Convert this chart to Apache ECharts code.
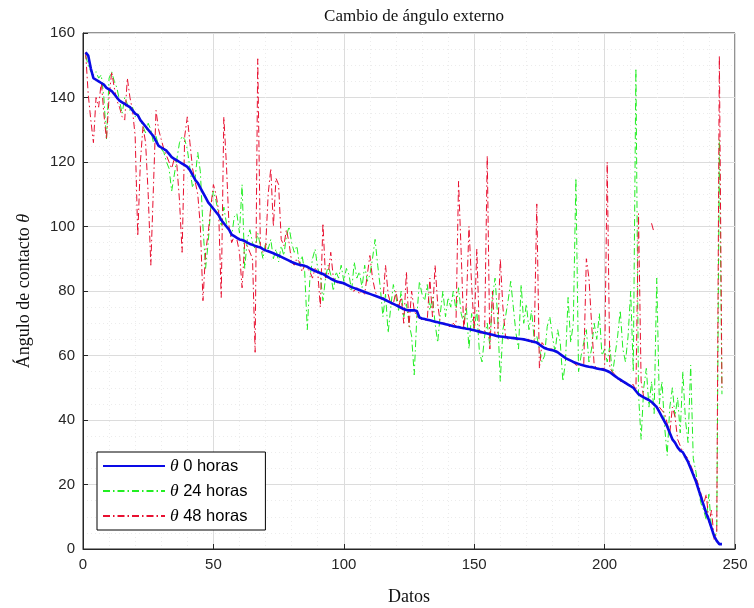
<!DOCTYPE html>
<html>
<head>
<meta charset="utf-8">
<script src="https://cdn.jsdelivr.net/npm/echarts@6/dist/echarts.min.js"></script>
<style>
  html, body { margin: 0; padding: 0; background: #fff; }
  #chart { width: 754px; height: 608px; }
</style>
</head>
<body>
<div id="chart"></div>
<script>
// Contact angle per sample (index 1..245), measured at 0, 24 and 48 hours.
const theta0h = [
  154, 153, 149, 146, 145.5, 145, 144.5, 144, 143, 142.5,
  142, 141, 140, 139, 138.5, 138, 137.5, 137, 136, 135,
  134.5, 133, 132, 131, 130, 129, 128, 126.5, 125, 124.5,
  124, 123.5, 122.5, 121.5, 121, 120.5, 120, 119.5, 119, 118.5,
  117.5, 116, 114.5, 113.5, 112, 110.5, 109, 107.5, 106.5, 105.5,
  104.5, 103.5, 102, 101, 100, 99, 97.5, 97, 96.5, 96,
  95.8, 95.5, 95, 94.6, 94.3, 94, 93.7, 93.5, 93, 92.6,
  92.3, 92, 91.7, 91.3, 91, 90.6, 90.2, 89.8, 89.4, 89,
  88.7, 88.4, 88.1, 88, 87.8, 87.5, 87, 86.6, 86.2, 85.9,
  85.6, 85.3, 84.8, 84.3, 83.8, 83.4, 83, 82.8, 82.6, 82.4,
  82, 81.6, 81.2, 80.9, 80.6, 80.3, 80, 79.7, 79.4, 79.1,
  78.8, 78.5, 78.2, 77.9, 77.6, 77.2, 76.8, 76.4, 76, 75.6,
  75.2, 74.8, 74.4, 74.1, 74, 74, 74, 73.8, 71.8, 71.5,
  71.3, 71.1, 70.9, 70.7, 70.5, 70.3, 70.1, 69.9, 69.7, 69.5,
  69.3, 69.1, 68.9, 68.8, 68.6, 68.5, 68.3, 68.2, 68, 67.8,
  67.6, 67.4, 67.2, 67, 66.8, 66.6, 66.4, 66.2, 66, 65.9,
  65.8, 65.7, 65.6, 65.5, 65.4, 65.3, 65.2, 65.1, 65, 64.8,
  64.6, 64.4, 64.2, 64, 63.4, 62.8, 62.3, 62, 61.8, 61.6,
  61.4, 61, 60.4, 59.8, 59.2, 58.8, 58.4, 58, 57.7, 57.4,
  57.1, 56.9, 56.7, 56.5, 56.4, 56.2, 56, 55.8, 55.7, 55.5,
  55.2, 54.8, 54.2, 53.6, 53, 52.5, 52, 51.5, 51, 50.5,
  50, 49, 48, 47.5, 47, 46.6, 46.2, 45.6, 44.8, 44,
  42.5, 41, 39.5, 38, 36, 34, 33, 31.5, 30.5, 30,
  28.5, 27, 25, 23, 21, 18.5, 16, 13.5, 11, 9,
  6.5, 4, 2.5, 1.5, 1.5
];

const theta24h = [
  153, 150, 148, 147, 148, 146, 147, 140, 127, 146,
  148, 145, 143, 139, 135, 140, 138, 136, 137, 134,
  135, 133, 131, 129, 132, 130, 126, 128, 125, 124,
  123, 120, 118, 111, 116, 121, 126, 128, 127, 124,
  118, 112, 115, 123, 117, 100, 87, 95, 106, 111,
  108, 104, 100, 106, 101, 99, 97, 103, 104, 98,
  113, 87, 96, 99, 95, 93, 98, 94, 90, 95,
  93, 96, 90, 93, 89, 94, 91, 97, 100, 95,
  92, 94, 88, 91, 86, 68, 84, 90, 93, 87,
  85, 77, 84, 88, 85, 80, 86, 84, 88, 83,
  87, 85, 80, 89, 84, 86, 81, 88, 83, 85,
  90, 96, 88, 81, 72, 79, 67, 75, 82, 78,
  74, 80, 72, 76, 70, 66, 54, 72, 83, 79,
  77, 82, 74, 78, 70, 64, 73, 80, 72, 78,
  75, 80, 74, 81, 73, 70, 75, 62, 73, 68,
  74, 61, 58, 66, 70, 63, 78, 84, 72, 52,
  68, 72, 77, 83, 75, 67, 62, 82, 70, 76,
  68, 74, 65, 66, 62, 58, 60, 69, 72, 66,
  61, 68, 64, 52, 58, 78, 64, 70, 115, 55,
  60, 64, 68, 58, 62, 70, 65, 73, 60, 62,
  58, 63, 54, 60, 66, 74, 62, 58, 66, 80,
  55, 149, 48, 34, 50, 56, 44, 52, 42, 84,
  45, 52, 38, 29, 44, 50, 41, 47, 36, 55,
  40, 33, 57, 28, 24, 18, 14, 12, 9, 17,
  6, 4, 5, 127, 48
];

// null marks samples without a 48 h reading
const theta48h = [
  154, 141, 133, 126, 140, 137, 145, 135, 127, 140,
  148, 143, 139, 137, 134, 133, 146, 140, 136, 128,
  97, 120, 131, 126, 110, 88, 112, 136, 130, 127,
  124, 122, 120, 118, 121, 119, 108, 92, 128, 134,
  126, 118, 114, 110, 100, 77, 92, 98, 106, 113,
  110, 105, 78, 134, 119, 100, 95, 97, 96, 92,
  81, 95, 94, 92, 90, 61, 152, 94, 92, 93,
  110, 118, 100, 115, 113, 96, 94, 99, 95, 89,
  88, 90, 89, 86, 88, 87, 86, 84, 87, 86,
  75, 101, 84, 85, 92, 84, 83, 82, 83, 82,
  82, 81, 80, 80, 81, 79, 80, 79, 85, 91,
  84, 80, 78, 78, 77, 88, 79, 76, 76, 80,
  75, 78, 70, 86, 69, 80, 74, 72, 72, 71,
  71, 71, 84, 72, 88, 76, 70, 70, 70, 69,
  69, 70, 69, 114, 92, 68, 76, 100, 82, 68,
  93, 67, 67, 67, 122, 62, 80, 66, 66, 90,
  75, 66, 65, 65, 66, 65, 65, 65, 65, 65,
  65, 64, 64, 107, 56, 64, 63, 62, 62, 62,
  61, 61, 60, 60, 59, 59, 58, 58, 57, 57,
  57, 57, 90, 84, 70, 57, 56, 56, 56, 56,
  120, 56, 55, 54, 53, 52, 52, 51, 51, 51,
  51, 49, 104, 52, 47, 47, null, 101, 98, null,
  44, 43, 42, 39, 36, 44, 41, 34, 32, 30,
  29, 28, 26, 24, 22, 20, 17, 14, 17, 8,
  12, 3, 5, 153, 50
];

const seriesNames = ['0 horas', '24 horas', '48 horas'];
const xTicks = { min: 0, max: 250, step: 50 };
const yTicks = { min: 0, max: 160, step: 20 };

function toPairs(values) {
  return values.map((v, i) => [i + 1, v === null ? '-' : v]);
}

const serif = 'Liberation Serif, DejaVu Serif, serif';
const sans = 'Liberation Sans, Arial, sans-serif';
const axisColor = '#262626';

const chart = echarts.init(document.getElementById('chart'), null, { renderer: 'canvas' });

const dashDot = [7, 3, 1.5, 3];

chart.setOption({
  animation: false,
  backgroundColor: '#ffffff',
  title: {
    text: 'Cambio de ángulo externo',
    left: 409,
    textAlign: 'center',
    top: 3,
    textStyle: { fontFamily: serif, fontSize: 17, fontWeight: 'normal', color: '#111' }
  },
  grid: {
    left: 83, right: 19, top: 33, bottom: 59,
    outerBoundsMode: 'none',
    containLabel: false,
    show: true, borderColor: '#262626', borderWidth: 1
  },
  legend: {
    orient: 'vertical',
    left: 97,
    top: 452,
    backgroundColor: '#fff',
    borderColor: '#000',
    borderWidth: 1,
    borderRadius: 0,
    padding: [5, 18, 5, 5],
    itemGap: 7,
    itemWidth: 62,
    itemHeight: 16,
    data: seriesNames,
    itemStyle: { color: 'transparent', borderWidth: 0, opacity: 0 },
    formatter: name => '{t|θ} ' + name,
    textStyle: {
      fontFamily: sans, fontSize: 16.5, color: '#000',
      rich: {
        t: { fontFamily: serif, fontStyle: 'italic', fontSize: 17.5, color: '#000' }
      }
    }
  },
  xAxis: {
    type: 'value',
    min: xTicks.min, max: xTicks.max, interval: xTicks.step,
    name: 'Datos',
    nameLocation: 'middle',
    nameGap: 39,
    nameTextStyle: { fontFamily: serif, fontSize: 18, color: '#111' },
    axisLine: { show: true, onZero: false, lineStyle: { color: axisColor, width: 1 } },
    axisTick: { show: true, inside: true, length: 5, lineStyle: { color: axisColor } },
    axisLabel: { fontFamily: sans, fontSize: 15, color: axisColor, margin: 8 },
    splitLine: { show: true, lineStyle: { color: '#dcdcdc', width: 1 } },
    minorTick: { show: false, splitNumber: 5 },
    minorSplitLine: { show: true, lineStyle: { color: '#ececec', width: 1, type: [1, 3] } }
  },
  yAxis: {
    type: 'value',
    min: yTicks.min, max: yTicks.max, interval: yTicks.step,
    name: 'Ángulo de contacto {t|θ}',
    nameLocation: 'middle',
    nameRotate: 90,
    nameGap: 50,
    nameTextStyle: {
      fontFamily: serif, fontSize: 18, color: '#111',
      rich: { t: { fontFamily: serif, fontStyle: 'italic', fontSize: 18, color: '#111' } }
    },
    axisLine: { show: true, onZero: false, lineStyle: { color: axisColor, width: 1 } },
    axisTick: { show: true, inside: true, length: 5, lineStyle: { color: axisColor } },
    axisLabel: { fontFamily: sans, fontSize: 15, color: axisColor, margin: 8 },
    splitLine: { show: true, lineStyle: { color: '#dcdcdc', width: 1 } },
    minorTick: { show: false, splitNumber: 4 },
    minorSplitLine: { show: true, lineStyle: { color: '#ececec', width: 1, type: [1, 3] } }
  },
  series: [
    {
      name: seriesNames[0],
      type: 'line',
      data: toPairs(theta0h),
      symbol: 'none',
      z: 5,
      color: '#0a0ae6',
      lineStyle: { color: '#0a0ae6', width: 2.6, type: 'solid' }
    },
    {
      name: seriesNames[1],
      type: 'line',
      data: toPairs(theta24h),
      symbol: 'none',
      z: 3,
      color: '#22ee22',
      lineStyle: { color: '#22ee22', width: 1, type: dashDot }
    },
    {
      name: seriesNames[2],
      type: 'line',
      data: toPairs(theta48h),
      symbol: 'none',
      z: 4,
      color: '#e81030',
      lineStyle: { color: '#e81030', width: 1, type: dashDot }
    }
  ]
});
</script>
</body>
</html>
